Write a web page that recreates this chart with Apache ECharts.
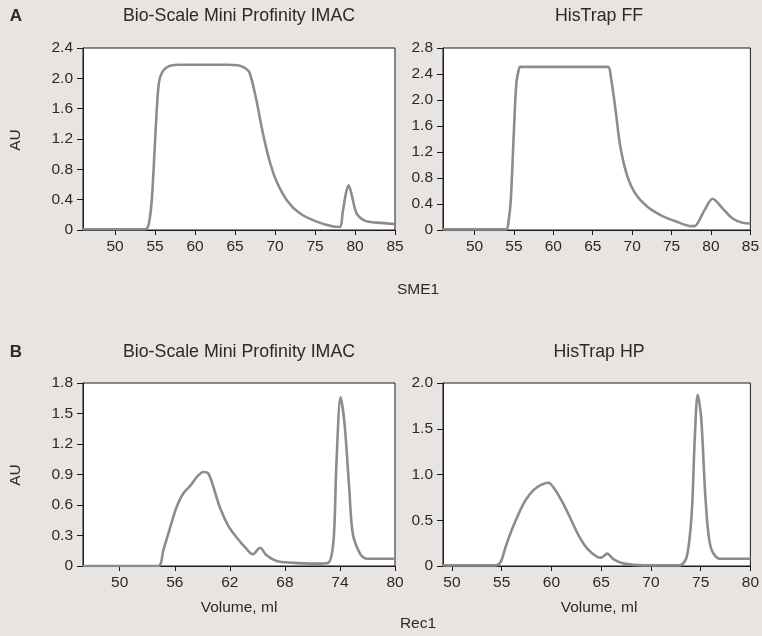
<!DOCTYPE html>
<html><head><meta charset="utf-8">
<script src="https://cdn.jsdelivr.net/npm/echarts@6/dist/echarts.min.js"></script>
<style>html,body{margin:0;padding:0;background:#e7e4e1;}#c{width:762px;height:636px;}</style>
</head><body><div id="c"></div>
<script>
// ---- data (volume ml, absorbance AU) ----
const sme1ProfinityX = [46,50,53.5,54,54.3,54.6,54.9,55.2,55.5,55.9,56.4,57,58,60,62,64,65.5,66.2,66.8,67.6,68.5,69.4,70.2,71.5,73.1,75.2,77.3,78.1,78.5,78.9,79.2,79.6,80.2,81.3,82.7,85];
const sme1ProfinityY = [0.01,0.01,0.01,0.02,0.12,0.40,0.95,1.55,1.95,2.08,2.14,2.17,2.18,2.18,2.18,2.18,2.17,2.14,2.08,1.75,1.27,0.88,0.64,0.39,0.22,0.11,0.045,0.04,0.26,0.50,0.59,0.46,0.22,0.12,0.097,0.08];
const sme1HisTrapX = [46,50,54,54.3,54.6,54.98,55.3,55.6,55.8,58,62,66.9,67.3,67.9,68.5,69.4,70.4,71.9,73.6,75.6,77.5,77.9,79.2,80.2,81.5,82.7,84,85];
const sme1HisTrapY = [0.01,0.01,0.01,0.12,0.46,1.48,2.25,2.46,2.51,2.51,2.51,2.51,2.35,1.84,1.28,0.82,0.56,0.36,0.23,0.13,0.06,0.06,0.31,0.48,0.33,0.18,0.11,0.10];
const rec1ProfinityX = [46,50,54.2,54.75,55.5,56.2,56.9,57.7,58.4,59.1,59.65,60.2,60.9,61.8,62.7,63.8,64.5,65.3,66.0,67.1,68.6,71.4,72.7,73.3,73.6,74.07,74.5,75.0,75.4,76.2,76.9,80];
const rec1ProfinityY = [0,0,0,0.154,0.38,0.58,0.71,0.79,0.875,0.925,0.91,0.78,0.58,0.40,0.285,0.17,0.115,0.18,0.105,0.05,0.033,0.023,0.03,0.25,0.97,1.66,1.40,0.78,0.32,0.12,0.072,0.072];
const rec1HisTrapX = [49.1,50,54.4,54.9,55.4,56.0,56.7,57.4,58.2,59.0,59.7,60.3,61.2,62.0,62.8,63.6,64.6,65.0,65.6,66.3,67.3,69.3,72.9,73.6,74.1,74.4,74.7,75.05,75.5,76.0,76.9,80];
const rec1HisTrapY = [0.007,0.007,0.007,0.044,0.21,0.39,0.57,0.72,0.83,0.89,0.91,0.845,0.68,0.50,0.32,0.19,0.098,0.091,0.135,0.069,0.026,0.007,0.007,0.098,0.57,1.37,1.87,1.63,0.72,0.21,0.08,0.08];

const xTicksA = [50,55,60,65,70,75,80,85];
const xTicksBL = [50,56,62,68,74,80];
const xTicksBR = [50,55,60,65,70,75,80];

const titles = ['Bio-Scale Mini Profinity IMAC','HisTrap FF','Bio-Scale Mini Profinity IMAC','HisTrap HP'];

const zip = (xs, ys) => xs.map((x, i) => [x, ys[i]]);

const FONT = 'Liberation Sans';
const TXT = '#2a2a2a';

const grids = [
  {left:83, top:48, width:312, height:182},
  {left:443, top:48, width:312, height:182},
  {left:83, top:383, width:312, height:183},
  {left:443, top:383, width:312, height:183}
].map(g => Object.assign(g, {show:true, backgroundColor:'#ffffff', borderColor:'#1a1a1a', borderWidth:1}));

function xAxis(idx, min, max, ticks) {
  return {
    type:'value', gridIndex:idx, min:min, max:max,
    axisLine:{show:true, onZero:false, lineStyle:{color:'#1a1a1a', width:1}},
    axisTick:{show:true, customValues:ticks, length:5, lineStyle:{color:'#1a1a1a'}},
    axisLabel:{customValues:ticks, color:TXT, fontFamily:FONT, fontSize:15.5, margin:9},
    splitLine:{show:false}
  };
}
function yAxis(idx, max, interval) {
  return {
    type:'value', gridIndex:idx, min:0, max:max, interval:interval,
    axisLine:{show:true, lineStyle:{color:'#1a1a1a', width:1}},
    axisTick:{show:true, length:6, lineStyle:{color:'#1a1a1a'}},
    axisLabel:{color:TXT, fontFamily:FONT, fontSize:15.5, margin:10,
      formatter: v => Math.abs(v) < 1e-9 ? '0' : v.toFixed(1)},
    splitLine:{show:false}
  };
}
function series(idx, data) {
  return {
    type:'line', xAxisIndex:idx, yAxisIndex:idx, data:data, symbol:'none',
    smooth:0.3,
    lineStyle:{color:'#8c8c8c', width:2.6}
  };
}
function text(x, y, t, opts) {
  return Object.assign({
    type:'text', x:x, y:y,
    style:Object.assign({text:t, fill:TXT, font:'17.8px "' + FONT + '"', textAlign:'center', textVerticalAlign:'middle'}, opts || {})
  });
}

const option = {
  backgroundColor:'#e7e4e1',
  animation:false,
  grid:grids,
  xAxis:[xAxis(0,46,85,xTicksA), xAxis(1,46,85,xTicksA), xAxis(2,46,80,xTicksBL), xAxis(3,49.1,80,xTicksBR)],
  yAxis:[yAxis(0,2.4,0.4), yAxis(1,2.8,0.4), yAxis(2,1.8,0.3), yAxis(3,2.0,0.5)],
  series:[
    series(0, zip(sme1ProfinityX, sme1ProfinityY)),
    series(1, zip(sme1HisTrapX, sme1HisTrapY)),
    series(2, zip(rec1ProfinityX, rec1ProfinityY)),
    series(3, zip(rec1HisTrapX, rec1HisTrapY))
  ],
  graphic:[
    text(16, 16, 'A', {font:'bold 17px "' + FONT + '"'}),
    text(16, 352, 'B', {font:'bold 17px "' + FONT + '"'}),
    text(239, 16, titles[0]),
    text(599, 16, titles[1]),
    text(239, 352, titles[2]),
    text(599, 352, titles[3]),
    {type:'text', x:16, y:140, rotation:Math.PI/2, style:{text:'AU', fill:TXT, font:'15.5px "' + FONT + '"', textAlign:'center', textVerticalAlign:'middle'}},
    {type:'text', x:16, y:475, rotation:Math.PI/2, style:{text:'AU', fill:TXT, font:'15.5px "' + FONT + '"', textAlign:'center', textVerticalAlign:'middle'}},
    text(418, 290, 'SME1', {font:'15.5px "' + FONT + '"'}),
    text(418, 624, 'Rec1', {font:'15.5px "' + FONT + '"'}),
    text(239, 608, 'Volume, ml', {font:'15.5px "' + FONT + '"'}),
    text(599, 608, 'Volume, ml', {font:'15.5px "' + FONT + '"'})
  ]
};
const chart = echarts.init(document.getElementById('c'), null, {renderer:'canvas'});
chart.setOption(option);
</script>
</body></html>
